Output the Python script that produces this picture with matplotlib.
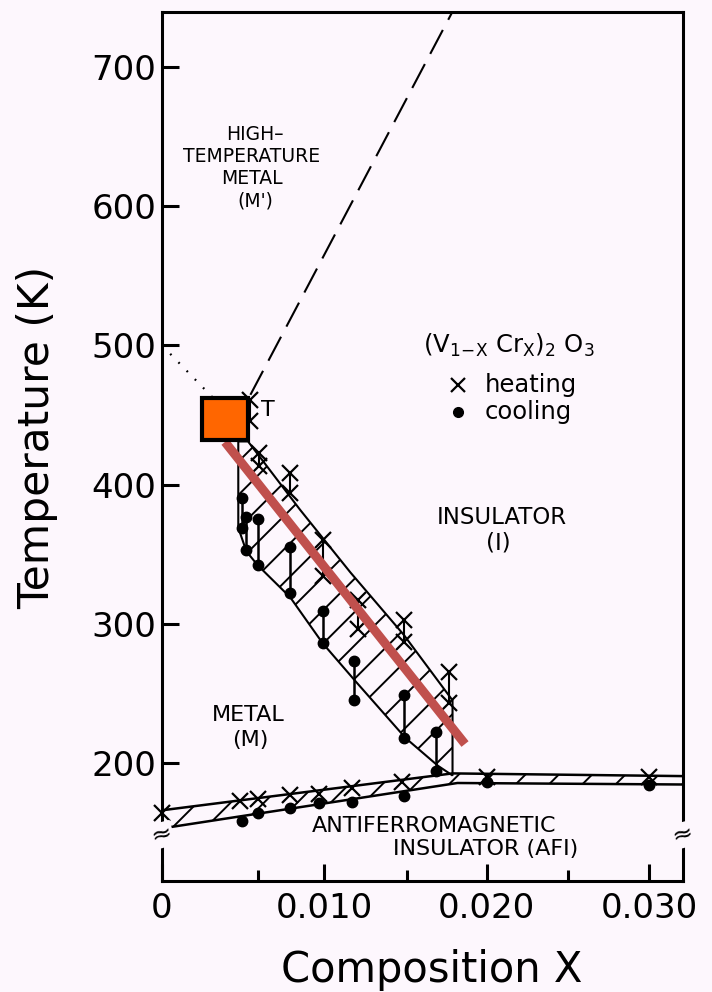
import numpy as np
import matplotlib
matplotlib.use("Agg")
import matplotlib.pyplot as plt
from matplotlib.patches import Polygon, Rectangle

plt.rcParams['font.family'] = ['DejaVu Sans']
plt.rcParams['hatch.linewidth'] = 1.4

BG = '#fdf7fd'

# heating (x) pairs inside the hatched band
heat_x = [0.0054, 0.0060, 0.0079, 0.0099, 0.0121, 0.0149, 0.0177]
heat_hi = [461, 423, 408, 360, 317, 303, 265]
heat_lo = [446, 413, 394, 334, 296, 287, 243]

# cooling (dots) pairs
cool_x = [0.0049, 0.0052, 0.0059, 0.0079, 0.0099, 0.0118, 0.0149, 0.0169]
cool_hi = [390, 377, 375, 355, 309, 273, 249, 222]
cool_lo = [369, 353, 342, 322, 286, 245, 218, 194]

# AFI transition points
afi_heat_x = [0.0, 0.0048, 0.0059, 0.0079, 0.0097, 0.0117, 0.0148, 0.0200, 0.0300]
afi_heat_T = [164, 173, 174, 177, 178, 182, 186, 190, 190]
afi_cool_x = [0.0049, 0.0059, 0.0079, 0.0097, 0.0117, 0.0149, 0.0200, 0.0300]
afi_cool_T = [158, 164, 168, 171, 172, 176, 186, 184]

# hatched hysteresis band (metal-insulator)
band_up_x = [0.0047, 0.0053, 0.0085, 0.0116, 0.0149, 0.0179]
band_up_T = [431, 431, 382, 337, 292, 245]
band_lo_x = [0.0047, 0.0047, 0.0052, 0.0059, 0.0079, 0.0099, 0.0119, 0.0150, 0.0170, 0.0179]
band_lo_T = [431, 369, 352, 342, 319, 286, 259, 218, 198, 191]

# AFI band
afi_up_x = [0.0, 0.0179, 0.0325]
afi_up_T = [166, 192.5, 190.5]
afi_lo_x = [0.0, 0.0182, 0.0325]
afi_lo_T = [153, 185.6, 184.5]

# boundary lines
dash_x = [0.00434, 0.0180]
dash_T = [440, 742]
dot_x = [0.0, 0.0040]
dot_T = [500, 452]
red_x = [0.00388, 0.01867]
red_T = [430.6, 213.6]

# orange box (corner, width, height)
box = (0.00246, 432.0, 0.00284, 30.2)

xticks = [0.0, 0.010, 0.020, 0.030]
xticklabels = ['0', '0.010', '0.020', '0.030']
xminor = [0.0059, 0.0151, 0.0250]
yticks = [200, 300, 400, 500, 600, 700]

fig = plt.figure(figsize=(7.12, 9.92), dpi=100, facecolor=BG)
ax = fig.add_axes([162/712, 1-881/992, 521/712, 869/992], facecolor=BG)
ax.set_xlim(0, 0.0321)
ax.set_ylim(115.2, 739.5)

# bands
pts = list(zip(band_up_x, band_up_T)) + list(zip(band_lo_x[::-1], band_lo_T[::-1]))
ax.add_patch(Polygon(pts, closed=True, facecolor='none', edgecolor='black',
                     lw=1.5, hatch='/', zorder=2))
pts = list(zip(afi_up_x, afi_up_T)) + list(zip(afi_lo_x[::-1], afi_lo_T[::-1]))
ax.add_patch(Polygon(pts, closed=True, facecolor='none', edgecolor='black',
                     lw=1.8, hatch='/', zorder=2))

# connecting lines
ax.vlines(heat_x, heat_lo, heat_hi, color='black', lw=1.5, zorder=3)
ax.vlines(cool_x, cool_lo, cool_hi, color='black', lw=1.8, zorder=3)

ax.plot(heat_x + heat_x, heat_hi + heat_lo, 'x', color='black', ms=11, mew=1.6, zorder=4)
ax.plot(cool_x + cool_x, cool_hi + cool_lo, 'o', color='black', ms=7.5, zorder=4)
ax.plot(afi_heat_x, afi_heat_T, 'x', color='black', ms=11, mew=1.6, zorder=4, clip_on=False)
ax.plot(afi_cool_x, afi_cool_T, 'o', color='black', ms=7.5, zorder=4)

ax.plot(dash_x, dash_T, color='black', lw=1.5, dashes=(13, 5.5), zorder=2)
ax.plot(dot_x, dot_T, color='black', lw=1.6, dashes=(0.8, 4.5), zorder=2)
ax.plot(red_x, red_T, color='#c0504d', lw=6.5, solid_capstyle='butt', zorder=5)
ax.add_patch(Rectangle(box[:2], box[2], box[3], facecolor='#ff6600',
                       edgecolor='black', lw=3, zorder=6))

# axes styling
for s in ax.spines.values():
    s.set_linewidth(2.2)
ax.set_xticks(xticks)
ax.set_xticklabels(xticklabels)
ax.set_xticks(xminor, minor=True)
ax.set_yticks(yticks)
ax.tick_params(axis='both', which='major', direction='in', length=12, width=2.2,
               labelsize=24.5)
ax.tick_params(axis='x', which='major', pad=8)
ax.tick_params(axis='y', which='major', pad=4)
ax.tick_params(axis='x', which='minor', direction='in', length=8, width=2.2)

fig.text(37/712, 1-437/992, 'Temperature (K)', rotation=90, ha='center',
         va='center', fontsize=30.5)
fig.text(432/712, 1-970/992, 'Composition X', ha='center', va='center',
         fontsize=30)


def px(x, y):
    return ((x - 162) / 521, (881 - y) / 869)


labels = [
    ('HIGH\u2013', 255, 134, 13.5, 'center'),
    ('TEMPERATURE', 252, 157, 13.5, 'center'),
    ('METAL', 252, 178, 13.5, 'center'),
    ("(M')", 255, 201, 13.5, 'center'),
    ('INSULATOR', 502, 517, 16.5, 'center'),
    ('(I)', 498, 543, 16.5, 'center'),
    ('METAL', 248, 715, 16, 'center'),
    ('(M)', 250, 740, 16, 'center'),
    ('ANTIFERROMAGNETIC', 434, 826, 16, 'center'),
    ('INSULATOR (AFI)', 486, 849, 16, 'center'),
    ('heating', 485, 385, 17.5, 'left'),
    ('cooling', 485, 412, 17.5, 'left'),
    ('T', 261, 410, 16, 'left'),
]
for t, x, y, fs, ha in labels:
    ax.text(*px(x, y), t, transform=ax.transAxes, ha=ha, va='center',
            fontsize=fs, zorder=7)

ax.text(*px(423, 345), r'(V$_{\mathregular{1\!-\!X}}$ Cr$_{\mathregular{X}}$)$_2$ O$_3$',
        transform=ax.transAxes, ha='left', va='center', fontsize=17.5)
ax.plot(*px(458, 385), 'x', color='black', ms=10, mew=1.6, transform=ax.transAxes)
ax.plot(*px(458, 412), 'o', color='black', ms=7, transform=ax.transAxes)

# axis break marks
for x in (162, 683):
    ax.text(*px(x, 835), '\u2248', transform=ax.transAxes, ha='center',
            va='center', fontsize=18, rotation=15, zorder=8,
            bbox=dict(facecolor=BG, edgecolor='none', pad=0.5))

fig.savefig('out.png', dpi=100, facecolor=BG)
